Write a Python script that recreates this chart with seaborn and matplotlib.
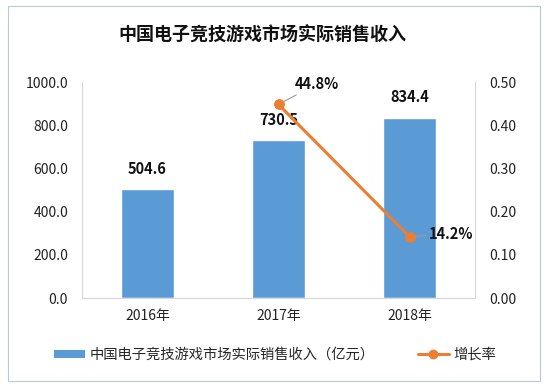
import matplotlib
matplotlib.use('Agg')
import pandas as pd
import seaborn as sns
import matplotlib.pyplot as plt
from matplotlib.patches import Rectangle, Patch
from matplotlib.lines import Line2D

years = ['2016年', '2017年', '2018年']
revenue = [504.6, 730.5, 834.4]
growth_years = ['2017年', '2018年']
growth = [0.448, 0.142]
growth_labels = ['44.8%', '14.2%']
title = '中国电子竞技游戏市场实际销售收入'
bar_name = '中国电子竞技游戏市场实际销售收入（亿元）'
line_name = '增长率'

bar_color = '#5B9BD5'
line_color = '#ED7D31'
spine_color = '#d9d9d9'

sns.set_theme(style='white')
plt.rcParams['font.family'] = ['Noto Sans CJK SC', 'DejaVu Sans']

fig = plt.figure(figsize=(5.5, 3.87), dpi=100)
# thin frame round the whole chart
fig.patches.append(Rectangle((8 / 550, 6 / 387), 532 / 550, 375 / 387,
                             transform=fig.transFigure, fill=False,
                             edgecolor='#b9c9d6', linewidth=0.8))
ax = fig.add_axes([82 / 550, 1 - 298 / 387, 393 / 550, 216 / 387])

df = pd.DataFrame({'year': years, 'revenue': revenue})
sns.barplot(data=df, x='year', y='revenue', color=bar_color, width=0.4,
            saturation=1, ax=ax)
ax.set_ylim(0, 1000)
ax.set_xlim(-0.5, 2.5)
ax.set_yticks(range(0, 1001, 200))
ax.set_yticklabels([f'{v:.1f}' for v in range(0, 1001, 200)])
ax.set_xlabel('')
ax.set_ylabel('')
ax.tick_params(axis='both', length=0, labelsize=10, colors='#222222')
ax.tick_params(axis='x', pad=8)
ax.tick_params(axis='y', pad=10)
for s in ['left', 'bottom', 'right']:
    ax.spines[s].set_color(spine_color)
    ax.spines[s].set_linewidth(0.8)
ax.spines['top'].set_visible(False)

for p, v in zip(ax.patches, revenue):
    ax.annotate(f'{v:.1f}', (p.get_x() + p.get_width() / 2, v),
                xytext=(0, 9), textcoords='offset points', ha='center',
                va='bottom', fontsize=10.5, fontweight='bold', color='#111111')

ax2 = ax.twinx()
sns.lineplot(x=growth_years, y=growth, ax=ax2, color=line_color, marker='o',
             markersize=7, linewidth=2.2, markeredgecolor=line_color, sort=False)
ax2.set_ylim(0, 0.5)
ax2.set_yticks([0, 0.1, 0.2, 0.3, 0.4, 0.5])
ax2.set_yticklabels([f'{v:.2f}' for v in [0, 0.1, 0.2, 0.3, 0.4, 0.5]])
ax2.tick_params(axis='y', length=0, labelsize=10, colors='#222222', pad=10)
for s in ['left', 'bottom', 'right']:
    ax2.spines[s].set_color(spine_color)
    ax2.spines[s].set_linewidth(0.8)
ax2.spines['top'].set_visible(False)
ax2.grid(False)
ax.grid(False)

offsets = [(12, 15), (14, 2)]
for x, y, lab, off in zip(growth_years, growth, growth_labels, offsets):
    ax2.annotate(lab, (x, y), xytext=off, textcoords='offset points',
                 ha='left', va='center', fontsize=10.5, fontweight='bold',
                 color='#111111',
                 arrowprops=dict(arrowstyle='-', color='#999999', lw=0.8,
                                 shrinkA=0, shrinkB=4))

fig.text(262 / 550, 1 - 35 / 387, title, ha='center', va='center',
         fontsize=13, fontweight='bold', color='#111111')

handles = [Patch(facecolor=bar_color, edgecolor='none'),
           Line2D([], [], color=line_color, marker='o', linewidth=2.2,
                  markersize=6)]
fig.legend(handles, [bar_name, line_name], loc='center',
           bbox_to_anchor=(275 / 550, 1 - 355 / 387), ncol=2, frameon=False,
           fontsize=10.3, handlelength=2.2, handleheight=0.5, columnspacing=3,
           handletextpad=0.3)

fig.savefig('out.png', dpi=100)
